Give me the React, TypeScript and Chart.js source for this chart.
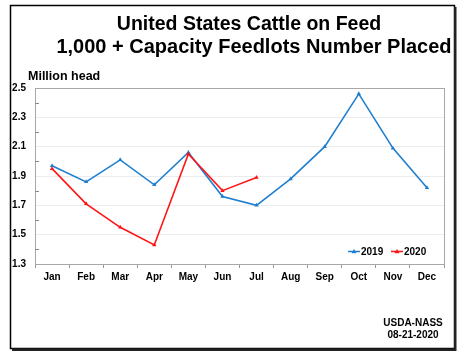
import React, { useEffect, useRef } from "react";
import { Chart, registerables } from "chart.js";
Chart.register(...registerables);

const months = ["Jan", "Feb", "Mar", "Apr", "May", "Jun", "Jul", "Aug", "Sep", "Oct", "Nov", "Dec"];
const values2019 = [1.97, 1.86, 2.01, 1.84, 2.06, 1.76, 1.70, 1.88, 2.10, 2.46, 2.09, 1.82];
const values2020 = [1.95, 1.71, 1.55, 1.43, 2.05, 1.80, 1.89];
const titleLines = ["United States Cattle on Feed", "1,000 + Capacity Feedlots Number Placed"];
const unitLabel = "Million head";
const sourceLines = ["USDA-NASS", "08-21-2020"];
const yMin = 1.3;
const yMax = 2.5;

const FONT = "'Liberation Sans', Arial, sans-serif";
const BLUE = "#1f7fcf";
const RED = "#ff1414";

const decor = {
  id: "decor",
  beforeDraw(chart: any) {
    const c = chart.ctx;
    c.save();
    c.fillStyle = "#fff";
    c.fillRect(0, 0, chart.width, chart.height);
    c.restore();
  },
  afterDraw(chart: any) {
    const c = chart.ctx;
    const a = chart.chartArea;
    const ys = chart.scales.y;
    c.save();
    // plot border
    c.strokeStyle = "#a8a8a8";
    c.lineWidth = 1;
    c.strokeRect(a.left + 0.5, a.top + 0.5, a.right - a.left, a.bottom - a.top);
    // minor ticks inside
    c.strokeStyle = "#888";
    for (let k = 1; k < 12; k += 2) {
      const v = yMin + k * 0.1;
      const py = Math.round(ys.getPixelForValue(v)) + 0.5;
      c.beginPath();
      c.moveTo(a.left, py);
      c.lineTo(a.left + 4, py);
      c.stroke();
    }
    // outer frame
    c.strokeStyle = "#000";
    c.lineWidth = 1.5;
    c.strokeRect(10.5, 5.5, 444, 343);
    c.fillStyle = "#222";
    c.fillRect(454, 7, 2.5, 344);
    c.fillRect(12, 348.5, 444, 2.5);
    // titles
    c.fillStyle = "#000";
    c.textAlign = "center";
    c.textBaseline = "alphabetic";
    c.font = `bold 19.5px ${FONT}`;
    c.fillText(titleLines[0], 249, 30);
    c.font = `bold 20px ${FONT}`;
    c.fillText(titleLines[1], 254, 53);
    // unit label
    c.textAlign = "left";
    c.font = `bold 12.5px ${FONT}`;
    c.fillText(unitLabel, 28, 80);
    // source
    c.textAlign = "center";
    c.font = `bold 10px ${FONT}`;
    c.fillText(sourceLines[0], 413, 326);
    c.fillText(sourceLines[1], 413, 338);
    // legend
    const ly = a.bottom - 12.5;
    const items = [
      { label: "2019", color: BLUE, x: a.right - 96 },
      { label: "2020", color: RED, x: a.right - 53 },
    ];
    c.textAlign = "left";
    c.font = `bold 10px ${FONT}`;
    for (const it of items) {
      c.strokeStyle = it.color;
      c.fillStyle = it.color;
      c.lineWidth = 1.5;
      c.beginPath();
      c.moveTo(it.x, ly);
      c.lineTo(it.x + 12, ly);
      c.stroke();
      c.beginPath();
      c.moveTo(it.x + 6, ly - 2.5);
      c.lineTo(it.x + 8.5, ly + 1.8);
      c.lineTo(it.x + 3.5, ly + 1.8);
      c.closePath();
      c.fill();
      c.fillStyle = "#000";
      c.fillText(it.label, it.x + 13, ly + 3.5);
    }
    c.restore();
  },
};

export default function App() {
  const ref = useRef<HTMLCanvasElement>(null);
  useEffect(() => {
    if (!ref.current) return;
    const chart = new Chart(ref.current, {
      type: "line",
      data: {
        labels: months,
        datasets: [
          {
            label: "2019",
            data: values2019,
            borderColor: BLUE,
            backgroundColor: BLUE,
            borderWidth: 1.6,
            pointStyle: "triangle",
            pointRadius: 2.5,
            pointBorderWidth: 0,
            tension: 0,
            order: 2,
          },
          {
            label: "2020",
            data: values2020,
            borderColor: RED,
            backgroundColor: RED,
            borderWidth: 1.6,
            pointStyle: "triangle",
            pointRadius: 2.5,
            pointBorderWidth: 0,
            tension: 0,
            order: 1,
          },
        ],
      },
      options: {
        responsive: false,
        animation: false,
        layout: { padding: { left: 0, top: 88, right: 32, bottom: 0 } },
        plugins: { legend: { display: false }, title: { display: false }, tooltip: { enabled: false } },
        scales: {
          x: {
            offset: true,
            grid: {
              offset: true,
              drawOnChartArea: false,
              drawTicks: true,
              tickLength: 4,
              tickColor: "#999",
            },
            border: { color: "#a8a8a8" },
            ticks: {
              color: "#000",
              font: { family: FONT, size: 10, weight: "bold" },
              padding: 3,
              maxRotation: 0,
              autoSkip: false,
            },
            afterFit(s: any) {
              s.height = 92;
            },
          },
          y: {
            min: yMin,
            max: yMax,
            grid: {
              color: (ctx: any) => (ctx.index % 2 === 0 && ctx.index !== 0 && ctx.index !== 12 ? "#ececec" : "rgba(0,0,0,0)"),
              drawTicks: false,
            },
            border: { color: "#a8a8a8" },
            ticks: {
              stepSize: 0.1,
              color: "#000",
              font: { family: FONT, size: 10, weight: "bold" },
              padding: 9,
              callback: (v: any, i: number) => (i % 2 === 0 ? Number(v).toFixed(1) : ""),
              autoSkip: false,
            },
            afterFit(s: any) {
              s.width = 35;
            },
          },
        },
      },
      plugins: [decor],
    });
    return () => chart.destroy();
  }, []);
  return (
    <div style={{ position: "fixed", left: 0, top: 0, width: 476, height: 356, background: "#fff" }}>
      <canvas ref={ref} width={476} height={356} style={{ display: "block" }} />
    </div>
  );
}
